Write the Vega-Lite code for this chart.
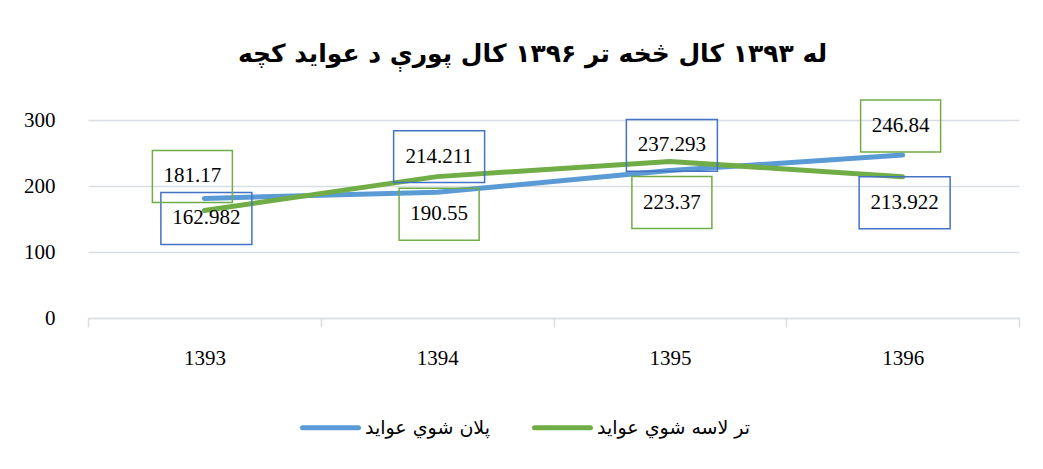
{
  "$schema": "https://vega.github.io/schema/vega-lite/v6.json",
  "width": 931,
  "height": 198,
  "autosize": "none",
  "padding": {"left": 88, "top": 120, "right": 24, "bottom": 151},
  "background": "white",
  "title": {
    "text": "له ۱۳۹۳ کال څخه تر ۱۳۹۶ کال پورې د عوايد کچه",
    "font": "DejaVu Sans",
    "fontSize": 25,
    "fontWeight": "bold",
    "color": "#000000",
    "anchor": "middle",
    "frame": "group",
    "baseline": "alphabetic",
    "offset": 10,
    "dx": -21
  },
  "data": {
    "values": [
      {"year": "1393", "series": "پلان شوي عوايد", "value": 181.17},
      {"year": "1394", "series": "پلان شوي عوايد", "value": 190.55},
      {"year": "1395", "series": "پلان شوي عوايد", "value": 223.37},
      {"year": "1396", "series": "پلان شوي عوايد", "value": 246.84},
      {"year": "1393", "series": "تر لاسه شوي عوايد", "value": 162.982},
      {"year": "1394", "series": "تر لاسه شوي عوايد", "value": 214.211},
      {"year": "1395", "series": "تر لاسه شوي عوايد", "value": 237.293},
      {"year": "1396", "series": "تر لاسه شوي عوايد", "value": 213.922}
    ]
  },
  "config": {
    "view": {"stroke": null},
    "axis": {"labelFont": "Liberation Serif", "labelFontSize": 21, "labelColor": "#000000"}
  },
  "encoding": {
    "x": {
      "field": "year",
      "type": "ordinal",
      "bandPosition": 0.5,
      "scale": {"type": "band", "paddingInner": 0, "paddingOuter": 0},
      "axis": {
        "title": null,
        "labelAngle": 0,
        "tickBand": "extent",
        "tickSize": 9,
        "tickColor": "#D9DEE5",
        "tickWidth": 1.5,
        "domainColor": "#D9DEE5",
        "domainWidth": 1.5,
        "grid": false,
        "labelPadding": 20
      }
    },
    "y": {
      "field": "value",
      "type": "quantitative",
      "scale": {"domain": [0, 300], "nice": false},
      "axis": {
        "title": null,
        "values": [0, 100, 200, 300],
        "ticks": false,
        "domain": false,
        "gridColor": "#D9DEE5",
        "gridWidth": 1.5,
        "labelPadding": 33
      }
    }
  },
  "layer": [
    {
      "transform": [{"filter": "datum.series === 'پلان شوي عوايد'"}],
      "mark": {"type": "line", "strokeWidth": 5, "strokeCap": "round", "strokeJoin": "round"},
      "encoding": {
        "color": {
          "field": "series",
          "type": "nominal",
          "scale": {"domain": ["پلان شوي عوايد", "تر لاسه شوي عوايد"], "range": ["#5B9BD5", "#70AD47"]},
          "legend": {
            "title": null,
            "orient": "none",
            "direction": "horizontal",
            "legendX": 212,
            "legendY": 277,
            "symbolType": "stroke",
            "symbolSize": 3136,
            "symbolStrokeWidth": 5,
            "labelFont": "DejaVu Sans",
            "labelFontSize": 19,
            "labelColor": "#000000",
            "labelOffset": 4,
            "columnPadding": 34,
            "encode": {"symbols": {"update": {"strokeCap": {"value": "round"}}}}
          }
        }
      }
    },
    {
      "transform": [{"filter": "datum.series === 'تر لاسه شوي عوايد'"}],
      "mark": {"type": "line", "strokeWidth": 5, "strokeCap": "round", "strokeJoin": "round"},
      "encoding": {"color": {"field": "series", "type": "nominal"}}
    },
    {
      "transform": [{"filter": "datum.series === 'تر لاسه شوي عوايد' && datum.year === '1393'"}],
      "layer": [
        {"mark": {"type": "point", "shape": "M-1,-0.571L1,-0.571L1,0.571L-1,0.571Z", "size": 8281, "filled": false, "stroke": "#4472C4", "strokeWidth": 1.5, "opacity": 1, "xOffset": 2, "yOffset": 8}},
        {"mark": {"type": "text", "font": "Liberation Serif", "fontSize": 21, "color": "#000000", "xOffset": 2, "yOffset": 8}, "encoding": {"text": {"field": "value", "type": "nominal"}}}
      ]
    },
    {
      "transform": [{"filter": "datum.series === 'تر لاسه شوي عوايد' && datum.year === '1394'"}],
      "layer": [
        {"mark": {"type": "point", "shape": "M-1,-0.571L1,-0.571L1,0.571L-1,0.571Z", "size": 8281, "filled": false, "stroke": "#4472C4", "strokeWidth": 1.5, "opacity": 1, "xOffset": 2, "yOffset": -20}},
        {"mark": {"type": "text", "font": "Liberation Serif", "fontSize": 21, "color": "#000000", "xOffset": 2, "yOffset": -20}, "encoding": {"text": {"field": "value", "type": "nominal"}}}
      ]
    },
    {
      "transform": [{"filter": "datum.series === 'تر لاسه شوي عوايد' && datum.year === '1395'"}],
      "layer": [
        {"mark": {"type": "point", "shape": "M-1,-0.571L1,-0.571L1,0.571L-1,0.571Z", "size": 8281, "filled": false, "stroke": "#4472C4", "strokeWidth": 1.5, "opacity": 1, "xOffset": 2, "yOffset": -16}},
        {"mark": {"type": "text", "font": "Liberation Serif", "fontSize": 21, "color": "#000000", "xOffset": 2, "yOffset": -16}, "encoding": {"text": {"field": "value", "type": "nominal"}}}
      ]
    },
    {
      "transform": [{"filter": "datum.series === 'تر لاسه شوي عوايد' && datum.year === '1396'"}],
      "layer": [
        {"mark": {"type": "point", "shape": "M-1,-0.571L1,-0.571L1,0.571L-1,0.571Z", "size": 8281, "filled": false, "stroke": "#4472C4", "strokeWidth": 1.5, "opacity": 1, "xOffset": 2, "yOffset": 26}},
        {"mark": {"type": "text", "font": "Liberation Serif", "fontSize": 21, "color": "#000000", "xOffset": 2, "yOffset": 26}, "encoding": {"text": {"field": "value", "type": "nominal"}}}
      ]
    },
    {
      "transform": [{"filter": "datum.series === 'پلان شوي عوايد' && datum.year === '1393'"}],
      "layer": [
        {"mark": {"type": "point", "shape": "M-1,-0.65L1,-0.65L1,0.65L-1,0.65Z", "size": 6400, "filled": false, "stroke": "#70AD47", "strokeWidth": 1.5, "opacity": 1, "xOffset": -12, "yOffset": -22}},
        {"mark": {"type": "text", "font": "Liberation Serif", "fontSize": 21, "color": "#000000", "xOffset": -12, "yOffset": -22}, "encoding": {"text": {"field": "value", "type": "nominal"}}}
      ]
    },
    {
      "transform": [{"filter": "datum.series === 'پلان شوي عوايد' && datum.year === '1394'"}],
      "layer": [
        {"mark": {"type": "point", "shape": "M-1,-0.65L1,-0.65L1,0.65L-1,0.65Z", "size": 6400, "filled": false, "stroke": "#70AD47", "strokeWidth": 1.5, "opacity": 1, "xOffset": 2, "yOffset": 22}},
        {"mark": {"type": "text", "font": "Liberation Serif", "fontSize": 21, "color": "#000000", "xOffset": 2, "yOffset": 22}, "encoding": {"text": {"field": "value", "type": "nominal"}}}
      ]
    },
    {
      "transform": [{"filter": "datum.series === 'پلان شوي عوايد' && datum.year === '1395'"}],
      "layer": [
        {"mark": {"type": "point", "shape": "M-1,-0.65L1,-0.65L1,0.65L-1,0.65Z", "size": 6400, "filled": false, "stroke": "#70AD47", "strokeWidth": 1.5, "opacity": 1, "xOffset": 2, "yOffset": 32}},
        {"mark": {"type": "text", "font": "Liberation Serif", "fontSize": 21, "color": "#000000", "xOffset": 2, "yOffset": 32}, "encoding": {"text": {"field": "value", "type": "nominal"}}}
      ]
    },
    {
      "transform": [{"filter": "datum.series === 'پلان شوي عوايد' && datum.year === '1396'"}],
      "layer": [
        {"mark": {"type": "point", "shape": "M-1,-0.65L1,-0.65L1,0.65L-1,0.65Z", "size": 6400, "filled": false, "stroke": "#70AD47", "strokeWidth": 1.5, "opacity": 1, "xOffset": -2, "yOffset": -29}},
        {"mark": {"type": "text", "font": "Liberation Serif", "fontSize": 21, "color": "#000000", "xOffset": -2, "yOffset": -29}, "encoding": {"text": {"field": "value", "type": "nominal"}}}
      ]
    }
  ]
}
